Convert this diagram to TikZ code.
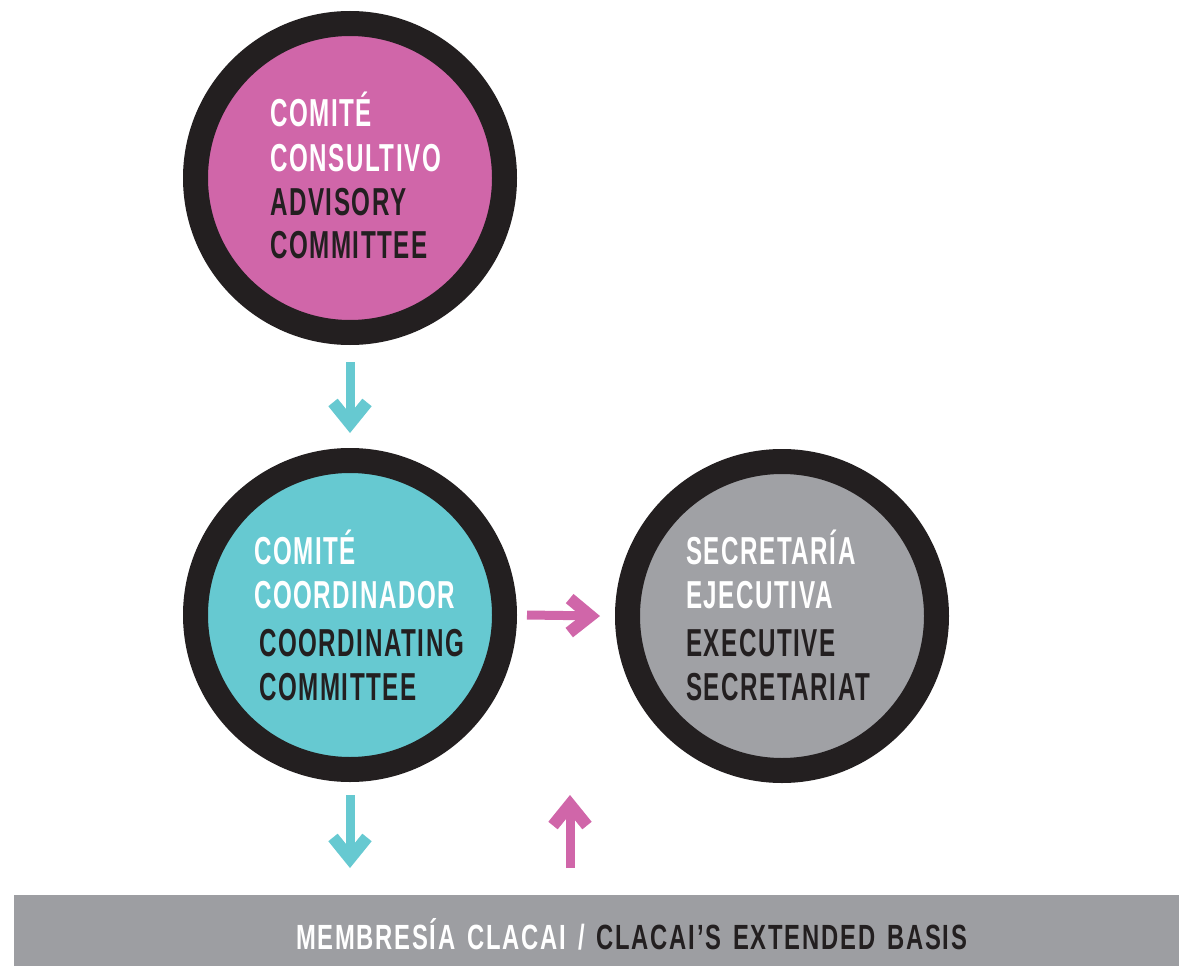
\documentclass[tikz,border=0pt]{standalone}
\usepackage{fontspec}
\newfontfamily\cond{Liberation Sans}[FakeStretch=0.62, LetterSpace=4]
\newfontfamily\condbar{Liberation Sans}[FakeStretch=0.68, LetterSpace=5]
\usetikzlibrary{arrows.meta}
\definecolor{ringblack}{HTML}{231F20}
\definecolor{pinkc}{HTML}{D066A9}
\definecolor{cyanc}{HTML}{66C9D1}
\definecolor{grayc}{HTML}{A0A1A5}
\definecolor{barc}{HTML}{9D9EA2}
\tikzset{
  orgcircle/.style={circle, draw=ringblack, line width=25pt, minimum size=309pt, inner sep=0pt, outer sep=12.5pt},
  lbl/.style={anchor=base west, inner sep=0pt, font=\cond\bfseries\fontsize{39}{42}\selectfont},
  es/.style={lbl, text=white},
  en/.style={lbl, text=ringblack},
  arr/.style={line width=9pt, -{Straight Barb[sharp, length=21pt, width=34pt, line width=12pt]}},
  cyanarr/.style={arr, draw=cyanc},
  pinkarr/.style={arr, draw=pinkc}
}
\begin{document}
\begin{tikzpicture}[x=1pt,y=-1pt]
\useasboundingbox (0,0) rectangle (1179,966);
\fill[white] (0,0) rectangle (1179,966);
% circles
\node[orgcircle, fill=pinkc] (adv) at (350,178) {};
\node[orgcircle, fill=cyanc] (coord) at (350,615) {};
\node[orgcircle, fill=grayc] (sec) at (782,616) {};
% bar
\node[fill=barc, minimum width=1165pt, minimum height=71pt, inner sep=0pt, anchor=north west] (bar) at (14,895) {};
% texts
\node[es] (advA) at (270,127) {COMITÉ};
\node[es] (advB) at (270,171) {CONSULTIVO};
\node[en] (advC) at (270,215) {ADVISORY};
\node[en] (advD) at (270,258) {COMMITTEE};
\node[es] (coA) at (254,564) {COMITÉ};
\node[es] (coB) at (254,608) {COORDINADOR};
\node[en] (coC) at (259,656) {COORDINATING};
\node[en] (coD) at (259,700) {COMMITTEE};
\node[es] (seA) at (686,564) {SECRETARÍA};
\node[es] (seB) at (686,608) {EJECUTIVA};
\node[en] (seC) at (686,656) {EXECUTIVE};
\node[en] (seD) at (686,700) {SECRETARIAT};
\node[anchor=base, inner sep=0pt, font=\condbar\bfseries\fontsize{35}{40}\selectfont, text=white] (barlbl) at (631.5,949) {\spaceskip=12pt MEMBRESÍA CLACAI / \textcolor{ringblack}{CLACAI’S EXTENDED BASIS}};
% connectors
\coordinate (upend) at (570,795);
\draw[cyanarr] ([yshift=-17pt]adv.south) -- ([yshift=15pt]coord.north);
\draw[pinkarr] ([xshift=10pt]coord.east) -- ([xshift=-15pt]sec.west);
\draw[cyanarr] ([yshift=-13pt]coord.south) -- ([yshift=27pt]coord.south |- bar.north);
\draw[pinkarr] ([yshift=27pt]upend |- bar.north) -- (upend);
\end{tikzpicture}
\end{document}
